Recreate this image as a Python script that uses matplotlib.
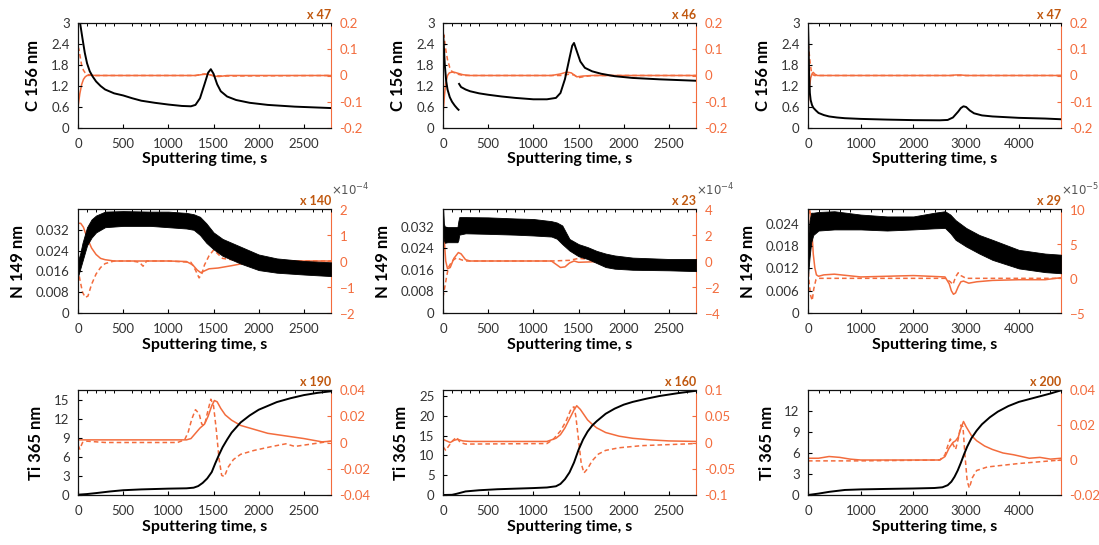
import matplotlib
matplotlib.use("Agg")
import matplotlib.pyplot as plt
from matplotlib.ticker import FuncFormatter, ScalarFormatter, MultipleLocator

plt.rcParams['font.family'] = ['Lato', 'DejaVu Sans']
plt.rcParams['axes.unicode_minus'] = False
plt.rcParams['mathtext.fontset'] = 'dejavusans'

# ---------------- C 156 nm ----------------
c1_t = [20, 35, 50, 75, 100, 130, 160, 200, 250, 300, 400, 500, 600, 700, 850, 1000, 1150, 1250,
        1300, 1350, 1400, 1440, 1470, 1500, 1540, 1580, 1650, 1750, 1900, 2100, 2400, 2800]
c1_v = [3.05, 2.8, 2.55, 2.15, 1.85, 1.62, 1.48, 1.33, 1.2, 1.1, 0.99, 0.93, 0.85, 0.78, 0.72, 0.67,
        0.63, 0.62, 0.66, 0.85, 1.25, 1.58, 1.68, 1.55, 1.25, 1.05, 0.9, 0.8, 0.72, 0.66, 0.61, 0.57]
c1_d1_t = [0, 20, 40, 60, 80, 100, 150, 200, 1300, 1380, 1440, 1500, 1560, 1650, 2800]
c1_d1 = [-0.12, -0.07, -0.035, -0.015, -0.005, 0.0, 0.001, 0.0, 0.0, 0.004, 0.005, -0.002, -0.004, 0.0, 0.0]
c1_d2_t = [0, 10, 25, 40, 60, 80, 100, 150, 200, 1300, 1400, 1500, 1600, 2800]
c1_d2 = [0.11, 0.1, 0.07, 0.04, 0.02, 0.01, 0.004, 0.001, 0.0, 0.0, 0.006, 0.0, -0.002, 0.0]

c2_ta = [0, 10, 20, 35, 50, 75, 100, 130, 160, 172]
c2_va = [2.75, 2.3, 1.8, 1.35, 1.1, 0.88, 0.75, 0.64, 0.55, 0.52]
c2_tb = [178, 200, 250, 300, 400, 500, 650, 800, 1000, 1150, 1250, 1300, 1350, 1400, 1430, 1450,
         1480, 1520, 1570, 1650, 1750, 1900, 2100, 2400, 2800]
c2_vb = [1.26, 1.17, 1.1, 1.05, 0.99, 0.95, 0.9, 0.86, 0.82, 0.82, 0.86, 1.0, 1.4, 2.0, 2.35, 2.43,
         2.2, 1.9, 1.72, 1.62, 1.55, 1.48, 1.43, 1.39, 1.35]
c2_d1_t = [0, 15, 30, 50, 70, 100, 130, 170, 220, 300, 1200, 1300, 1370, 1420, 1480, 1550, 1650, 2800]
c2_d1 = [-0.15, -0.08, -0.03, 0.0, 0.01, 0.013, 0.012, 0.008, 0.003, 0.0, 0.0, 0.006, 0.013, 0.01,
         -0.005, -0.002, 0.0, 0.0]
c2_d2_t = [0, 8, 15, 30, 50, 75, 100, 150, 200, 250, 1300, 1400, 1450, 1500, 1550, 1650, 2800]
c2_d2 = [0.12, 0.155, 0.14, 0.1, 0.06, 0.03, 0.015, 0.006, 0.002, 0.0, 0.0, 0.005, 0.002, -0.008,
         -0.005, 0.0, 0.0]

c3_t = [0, 10, 20, 35, 50, 75, 100, 150, 200, 300, 400, 550, 700, 1000, 1500, 2000, 2500, 2650, 2750,
        2850, 2900, 2950, 3000, 3070, 3150, 3300, 3500, 4000, 4500, 4800]
c3_v = [3.0, 2.4, 1.6, 1.0, 0.8, 0.66, 0.58, 0.5, 0.43, 0.37, 0.33, 0.3, 0.28, 0.26, 0.24, 0.225,
        0.22, 0.23, 0.3, 0.47, 0.57, 0.62, 0.6, 0.5, 0.42, 0.36, 0.33, 0.29, 0.27, 0.25]
c3_d1_t = [0, 15, 30, 50, 80, 100, 130, 180, 2700, 2800, 2900, 3000, 4800]
c3_d1 = [-0.12, -0.08, -0.04, -0.01, 0.008, 0.012, 0.005, 0.0, 0.0, 0.002, 0.002, 0.0, 0.0]
c3_d2_t = [0, 10, 25, 40, 60, 80, 120, 4800]
c3_d2 = [0.12, 0.11, 0.08, 0.05, 0.02, 0.005, 0.0, 0.0]

# ---------------- N 149 nm (noisy intensity band) ----------------
n1_t = [0, 25, 50, 100, 150, 200, 300, 500, 800, 1000, 1200, 1280, 1350, 1420, 1500, 1600, 1700,
        1800, 2000, 2200, 2500, 2800]
n1_lo = [0.014, 0.017, 0.020, 0.026, 0.029, 0.031, 0.033, 0.0335, 0.0335, 0.033, 0.0325, 0.032, 0.030,
         0.027, 0.0245, 0.022, 0.0205, 0.019, 0.0165, 0.0155, 0.0148, 0.0142]
n1_hi = [0.020, 0.023, 0.027, 0.033, 0.036, 0.0375, 0.039, 0.0392, 0.039, 0.039, 0.0385, 0.038, 0.037,
         0.0345, 0.031, 0.0285, 0.027, 0.0255, 0.0225, 0.021, 0.020, 0.0195]
n1_d1_t = [0, 30, 60, 100, 150, 200, 250, 300, 400, 600, 1000, 1200, 1270, 1320, 1360, 1400, 1450,
           1550, 1700, 1850, 2000, 2200, 2800]
n1_d1 = [1.45e-4, 1.45e-4, 1.3e-4, 0.9e-4, 0.5e-4, 0.25e-4, 0.1e-4, 0.05e-4, 0.0, 0.0, 0.0, -0.02e-4,
         -0.15e-4, -0.35e-4, -0.45e-4, -0.38e-4, -0.3e-4, -0.27e-4, -0.18e-4, -0.08e-4, -0.02e-4, 0.0, 0.0]
n1_d2_t = [0, 20, 50, 80, 110, 150, 200, 250, 300, 400, 600, 680, 720, 760, 1000, 1250, 1300, 1340,
           1370, 1400, 1450, 1500, 1540, 1600, 1700, 1800, 2000, 2800]
n1_d2 = [-0.3e-4, -0.7e-4, -1.2e-4, -1.4e-4, -1.35e-4, -0.9e-4, -0.5e-4, -0.25e-4, -0.1e-4, 0.0, 0.0,
         -0.05e-4, -0.2e-4, 0.0, 0.0, -0.05e-4, -0.35e-4, -0.65e-4, -0.5e-4, -0.15e-4, 0.2e-4, 0.42e-4,
         0.3e-4, 0.1e-4, 0.05e-4, 0.08e-4, 0.0, 0.0]

n2_t = [0, 10, 20, 50, 100, 160, 170, 180, 250, 500, 800, 1000, 1200, 1260, 1320, 1400, 1500, 1600,
        1700, 1800, 1900, 2100, 2500, 2800]
n2_lo = [0.029, 0.027, 0.026, 0.0262, 0.0262, 0.0262, 0.027, 0.029, 0.0295, 0.0293, 0.029, 0.0287,
         0.0283, 0.0275, 0.0255, 0.0231, 0.021, 0.020, 0.0185, 0.017, 0.0164, 0.016, 0.0158, 0.0155]
n2_hi = [0.040, 0.033, 0.032, 0.0318, 0.0318, 0.0318, 0.034, 0.0355, 0.0355, 0.0354, 0.035, 0.0348,
         0.034, 0.0335, 0.0324, 0.0274, 0.0255, 0.0244, 0.023, 0.022, 0.0213, 0.0205, 0.020, 0.020]
n2_d1_t = [0, 15, 30, 50, 80, 120, 170, 200, 250, 300, 1200, 1250, 1300, 1350, 1400, 1450, 1500,
           1700, 2800]
n2_d1 = [3.0e-4, 1.5e-4, 0.0, -0.6e-4, -0.5e-4, 0.2e-4, 0.65e-4, 0.55e-4, 0.1e-4, 0.0, 0.0, -0.25e-4,
         -0.5e-4, -0.45e-4, -0.15e-4, 0.0, -0.1e-4, -0.05e-4, 0.0]
n2_d2_t = [0, 20, 40, 60, 100, 150, 200, 250, 1200, 1400, 1500, 1600, 1700, 2800]
n2_d2 = [-2.8e-4, -2.0e-4, -1.2e-4, -0.5e-4, 0.0, 0.25e-4, 0.1e-4, 0.0, 0.0, 0.05e-4, 0.2e-4,
         0.15e-4, 0.0, 0.0]

n3_t = [0, 30, 60, 100, 200, 500, 1000, 1500, 2000, 2400, 2600, 2700, 2800, 3000, 3250, 3500, 4000,
        4500, 4800]
n3_lo = [0.010, 0.015, 0.019, 0.021, 0.0222, 0.0225, 0.0225, 0.0222, 0.0225, 0.0228, 0.0229, 0.0215,
         0.0197, 0.0179, 0.016, 0.0143, 0.012, 0.011, 0.0107]
n3_hi = [0.020, 0.025, 0.027, 0.027, 0.0272, 0.0274, 0.0265, 0.026, 0.026, 0.027, 0.0274, 0.0265,
         0.025, 0.0229, 0.021, 0.0197, 0.017, 0.016, 0.0157]
n3_d1_t = [0, 15, 30, 60, 80, 100, 130, 160, 200, 300, 500, 1000, 2000, 2600, 2680, 2720, 2760, 2800,
           2850, 2900, 2950, 3050, 3200, 3500, 4000, 4500, 4800]
n3_d1 = [4.0e-5, 9.5e-5, 9.8e-5, 9.0e-5, 6.0e-5, 3.5e-5, 1.5e-5, 0.5e-5, 0.3e-5, 0.5e-5, 0.6e-5,
         0.2e-5, 0.4e-5, 0.2e-5, -0.8e-5, -1.8e-5, -2.3e-5, -2.1e-5, -1.2e-5, -0.5e-5, -0.4e-5, -0.7e-5,
         -0.5e-5, -0.3e-5, -0.2e-5, -0.2e-5, 0.1e-5]
n3_d2_t = [0, 20, 50, 80, 110, 150, 200, 1000, 2600, 2700, 2750, 2800, 2850, 2900, 3000, 4800]
n3_d2 = [2.0e-5, -0.5e-5, -2.5e-5, -3.2e-5, -1.5e-5, -0.2e-5, 0.0, 0.0, 0.0, -0.5e-5, -0.9e-5,
         0.2e-5, 0.8e-5, 0.4e-5, 0.0, 0.0]

# ---------------- Ti 365 nm ----------------
t1_t = [0, 100, 200, 350, 500, 700, 1000, 1200, 1280, 1330, 1380, 1430, 1480, 1520, 1560, 1600, 1650,
        1700, 1800, 1900, 2000, 2100, 2200, 2350, 2500, 2650, 2800]
t1_v = [0.05, 0.15, 0.3, 0.55, 0.75, 0.88, 1.0, 1.05, 1.15, 1.4, 1.9, 2.6, 3.6, 5.0, 6.3, 7.5, 8.7,
        9.8, 11.4, 12.5, 13.4, 14.0, 14.6, 15.2, 15.7, 16.05, 16.3]
t1_d1_t = [0, 100, 1200, 1250, 1300, 1350, 1400, 1440, 1480, 1510, 1540, 1580, 1630, 1700, 1800, 1950,
           2100, 2300, 2500, 2700, 2800]
t1_d1 = [0.002, 0.002, 0.002, 0.003, 0.007, 0.011, 0.014, 0.02, 0.028, 0.032, 0.031, 0.026, 0.021,
         0.017, 0.013, 0.01, 0.007, 0.005, 0.003, 0.0005, 0.001]
t1_d2_t = [0, 20, 50, 100, 300, 1100, 1180, 1220, 1260, 1300, 1340, 1370, 1400, 1430, 1470, 1500, 1530,
           1560, 1590, 1620, 1660, 1720, 1800, 1950, 2150, 2300, 2400, 2600, 2800]
t1_d2 = [-0.002, -0.005, 0.0, 0.001, 0.0, 0.0, 0.002, 0.008, 0.018, 0.025, 0.022, 0.014, 0.013, 0.022,
         0.033, 0.028, 0.01, -0.012, -0.025, -0.026, -0.019, -0.013, -0.009, -0.006, -0.003, -0.001,
         -0.003, -0.001, 0.001]

t2_t = [0, 100, 150, 250, 400, 600, 800, 1000, 1150, 1250, 1300, 1350, 1400, 1450, 1500, 1550, 1600,
        1650, 1700, 1800, 1900, 2000, 2100, 2250, 2400, 2600, 2800]
t2_v = [0.0, 0.05, 0.3, 0.9, 1.2, 1.45, 1.6, 1.75, 1.9, 2.2, 2.8, 4.0, 5.7, 8.2, 11.4, 14.0, 16.0,
        17.5, 18.6, 20.5, 21.8, 22.8, 23.5, 24.3, 25.0, 25.7, 26.3]
t2_d1_t = [0, 40, 80, 120, 160, 220, 300, 1150, 1250, 1300, 1350, 1400, 1450, 1480, 1520, 1560, 1600,
           1650, 1700, 1800, 1950, 2100, 2300, 2500, 2800]
t2_d1 = [0.006, 0.003, 0.0, 0.004, 0.006, 0.003, 0.002, 0.002, 0.008, 0.015, 0.028, 0.045, 0.062, 0.07,
         0.063, 0.053, 0.043, 0.035, 0.028, 0.019, 0.012, 0.008, 0.005, 0.003, 0.002]
t2_d2_t = [0, 30, 70, 110, 150, 190, 250, 1150, 1220, 1300, 1360, 1420, 1450, 1470, 1500, 1530, 1560,
           1600, 1650, 1720, 1800, 1950, 2200, 2500, 2800]
t2_d2 = [-0.008, -0.015, -0.005, 0.004, 0.01, 0.0, -0.003, -0.002, 0.006, 0.022, 0.04, 0.065, 0.068,
         0.05, 0.005, -0.04, -0.058, -0.05, -0.035, -0.022, -0.015, -0.01, -0.006, -0.004, -0.002]

t3_t = [0, 200, 400, 700, 1000, 1500, 2000, 2400, 2550, 2650, 2720, 2780, 2840, 2900, 2960, 3020, 3100,
        3200, 3300, 3450, 3600, 3800, 4000, 4200, 4400, 4600, 4800]
t3_v = [0.0, 0.2, 0.45, 0.72, 0.8, 0.87, 0.93, 1.0, 1.1, 1.4, 1.9, 2.6, 3.5, 4.6, 5.8, 6.9, 8.1, 9.2,
        10.1, 11.1, 11.9, 12.7, 13.3, 13.7, 14.1, 14.5, 14.95]
t3_d1_t = [0, 200, 400, 600, 800, 1000, 2500, 2600, 2680, 2750, 2800, 2850, 2900, 2950, 3000, 3100,
           3200, 3350, 3500, 3700, 3900, 4200, 4400, 4600, 4800]
t3_d1 = [0.001, 0.001, 0.002, 0.0015, 0.0005, 0.0, 0.0, 0.002, 0.007, 0.01, 0.011, 0.013, 0.018, 0.022,
         0.019, 0.014, 0.011, 0.008, 0.006, 0.004, 0.003, 0.001, 0.0015, 0.0005, 0.001]
t3_d2_t = [0, 1000, 2500, 2600, 2650, 2700, 2750, 2800, 2850, 2900, 2940, 2980, 3020, 3060, 3120, 3200,
           3400, 3700, 4000, 4400, 4800]
t3_d2 = [-0.0005, -0.0005, 0.0, 0.003, 0.008, 0.012, 0.009, 0.006, 0.012, 0.02, 0.019, 0.002, -0.012,
         -0.016, -0.01, -0.006, -0.004, -0.003, -0.002, -0.001, 0.0]

multipliers = [["x 47", "x 46", "x 47"], ["x 140", "x 23", "x 29"], ["x 190", "x 160", "x 200"]]
ylabels = ["C 156 nm", "N 149 nm", "Ti 365 nm"]

ORANGE = "#F36C3D"
DARK_ORANGE = "#C0580F"
TICK_GREY = "#333333"

W, H = 1099, 545
fig = plt.figure(figsize=(W / 100, H / 100), dpi=100)

col_left = [78, 443, 808]
ax_w = 253
row_top = [23, 209, 390]
ax_h = [105, 104, 105]

fmt_g = FuncFormatter(lambda v, p: "%g" % round(v, 6))

panels = [
    # row 0
    dict(line=[(c1_t, c1_v)], d1=(c1_d1_t, c1_d1), d2=(c1_d2_t, c1_d2), xmax=2800,
         ylim=(0, 3), yticks=[0, 0.6, 1.2, 1.8, 2.4, 3], rlim=(-0.2, 0.2), rticks=[-0.2, -0.1, 0, 0.1, 0.2]),
    dict(line=[(c2_ta, c2_va), (c2_tb, c2_vb)], d1=(c2_d1_t, c2_d1), d2=(c2_d2_t, c2_d2), xmax=2800,
         ylim=(0, 3), yticks=[0, 0.6, 1.2, 1.8, 2.4, 3], rlim=(-0.2, 0.2), rticks=[-0.2, -0.1, 0, 0.1, 0.2]),
    dict(line=[(c3_t, c3_v)], d1=(c3_d1_t, c3_d1), d2=(c3_d2_t, c3_d2), xmax=4800,
         ylim=(0, 3), yticks=[0, 0.6, 1.2, 1.8, 2.4, 3], rlim=(-0.2, 0.2), rticks=[-0.2, -0.1, 0, 0.1, 0.2]),
    # row 1
    dict(band=(n1_t, n1_lo, n1_hi), d1=(n1_d1_t, n1_d1), d2=(n1_d2_t, n1_d2), xmax=2800,
         ylim=(0, 0.04), yticks=[0, 0.008, 0.016, 0.024, 0.032], rlim=(-2e-4, 2e-4),
         rticks=[-2e-4, -1e-4, 0, 1e-4, 2e-4], sci=-4),
    dict(band=(n2_t, n2_lo, n2_hi), d1=(n2_d1_t, n2_d1), d2=(n2_d2_t, n2_d2), xmax=2800,
         ylim=(0, 0.0385), yticks=[0, 0.008, 0.016, 0.024, 0.032], rlim=(-4e-4, 4e-4),
         rticks=[-4e-4, -2e-4, 0, 2e-4, 4e-4], sci=-4),
    dict(band=(n3_t, n3_lo, n3_hi), d1=(n3_d1_t, n3_d1), d2=(n3_d2_t, n3_d2), xmax=4800,
         ylim=(0, 0.028), yticks=[0, 0.006, 0.012, 0.018, 0.024], rlim=(-5e-5, 10e-5),
         rticks=[-5e-5, 0, 5e-5, 10e-5], sci=-5),
    # row 2
    dict(line=[(t1_t, t1_v)], d1=(t1_d1_t, t1_d1), d2=(t1_d2_t, t1_d2), xmax=2800,
         ylim=(0, 16.5), yticks=[0, 3, 6, 9, 12, 15], rlim=(-0.04, 0.04), rticks=[-0.04, -0.02, 0, 0.02, 0.04]),
    dict(line=[(t2_t, t2_v)], d1=(t2_d1_t, t2_d1), d2=(t2_d2_t, t2_d2), xmax=2800,
         ylim=(0, 26.5), yticks=[0, 5, 10, 15, 20, 25], rlim=(-0.1, 0.1), rticks=[-0.1, -0.05, 0, 0.05, 0.1]),
    dict(line=[(t3_t, t3_v)], d1=(t3_d1_t, t3_d1), d2=(t3_d2_t, t3_d2), xmax=4800,
         ylim=(0, 15), yticks=[0, 3, 6, 9, 12], rlim=(-0.02, 0.04), rticks=[-0.02, 0, 0.02, 0.04]),
]

TICK_FS = 9.5

for idx, p in enumerate(panels):
    r, c = divmod(idx, 3)
    left = col_left[c] / W
    bottom = 1 - (row_top[r] + ax_h[r]) / H
    ax = fig.add_axes([left, bottom, ax_w / W, ax_h[r] / H])
    ax2 = ax.twinx()
    ax.set_zorder(ax2.get_zorder() + 1)
    ax.patch.set_visible(False)

    # black intensity trace
    if "band" in p:
        bt, blo, bhi = p["band"]
        ax.fill_between(bt, blo, bhi, color="black", lw=0.6, edgecolor="black")
    for lt, lv in p.get("line", []):
        ax.plot(lt, lv, color="black", lw=1.4)

    # derivative traces on the right axis
    ax2.plot(*p["d1"], color=ORANGE, lw=1.1, ls="-")
    ax2.plot(*p["d2"], color=ORANGE, lw=1.1, ls=(0, (3, 2)))

    xmax = p["xmax"]
    ax.set_xlim(0, xmax)
    ax.set_ylim(*p["ylim"])
    ax2.set_ylim(*p["rlim"])
    step = 500 if xmax < 3000 else 1000
    ax.set_xticks(list(range(0, xmax, step)))
    ax.set_yticks(p["yticks"])
    ax.yaxis.set_major_formatter(fmt_g)
    ax.xaxis.set_major_formatter(fmt_g)
    ax.xaxis.set_minor_locator(MultipleLocator(step / 5))
    ax.tick_params(axis="both", which="major", direction="in", length=3, width=0.8,
                   labelsize=TICK_FS, labelcolor=TICK_GREY, top=False, right=False)
    ax.tick_params(axis="x", which="minor", direction="in", length=2, width=0.7,
                   top=True, bottom=False)
    ax.tick_params(axis="x", which="major", pad=7)
    ax.tick_params(axis="y", which="major", pad=6)

    ax2.set_yticks(p["rticks"])
    if p.get("sci"):
        exp = p["sci"]
        sf = ScalarFormatter(useMathText=True)
        sf.set_powerlimits((exp, exp))
        ax2.yaxis.set_major_formatter(sf)
        ax2.yaxis.get_offset_text().set_visible(False)
        # scale factor for the right-axis tick labels, placed above the spine
        ax2.annotate(r"$\times10^{%d}$" % exp, xy=(1.0, 1.0), xycoords="axes fraction",
                     xytext=(0, 8), textcoords="offset points", ha="left", va="bottom",
                     fontsize=8.5, color="#555555")
    else:
        ax2.yaxis.set_major_formatter(fmt_g)
    ax2.tick_params(axis="y", direction="in", length=3, width=0.8, colors=ORANGE,
                    labelsize=TICK_FS, pad=6)
    for s in ["left", "top", "bottom"]:
        ax2.spines[s].set_visible(False)
    ax2.spines["right"].set_color(ORANGE)
    ax.spines["right"].set_visible(False)
    for s in ["left", "top", "bottom"]:
        ax.spines[s].set_linewidth(0.9)
        ax.spines[s].set_color("#111111")

    ax.set_xlabel("Sputtering time, s", fontsize=11.5, fontweight="bold", labelpad=2)
    ax.set_ylabel(ylabels[r], fontsize=12, fontweight="bold", labelpad=7)

    ax.text(1.0, 1.015, multipliers[r][c], transform=ax.transAxes, ha="right", va="bottom",
            fontsize=9, fontweight="bold", color=DARK_ORANGE)

fig.savefig("out.png", dpi=100)
